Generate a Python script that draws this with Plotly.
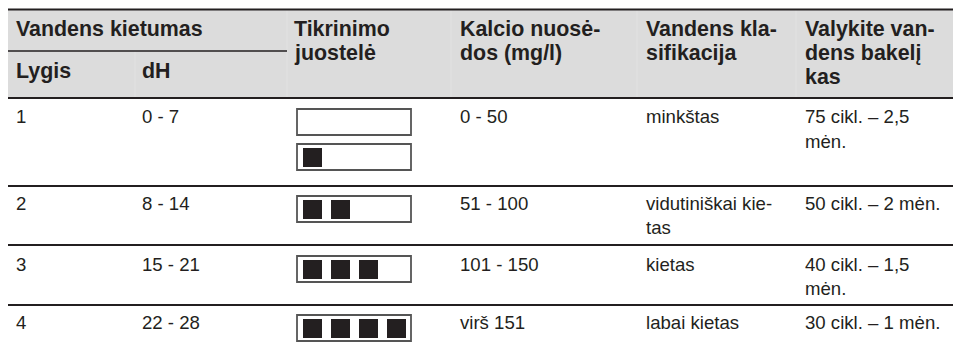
import plotly.graph_objects as go

# ---------------- data ----------------
header_group = "Vandens kietumas"
header_sub = ["Lygis", "dH"]
header_cols = ["Tikrinimo\njuostelė", "Kalcio nuosė-\ndos (mg/l)", "Vandens kla-\nsifikacija", "Valykite van-\ndens bakelį\nkas"]

levels = ["1", "2", "3", "4"]
dh_ranges = ["0 - 7", "8 - 14", "15 - 21", "22 - 28"]
calcium = ["0 - 50", "51 - 100", "101 - 150", "virš 151"]
classification = ["minkštas", "vidutiniškai kie-\ntas", "kietas", "labai kietas"]
cleaning = ["75 cikl. – 2,5\nmėn.", "50 cikl. – 2 mėn.", "40 cikl. – 1,5\nmėn.", "30 cikl. – 1 mėn."]
strip_squares = [[0, 1], [2], [3], [4]]   # filled squares per test strip, per row

# ---------------- layout constants ----------------
W, H = 955, 352
TABLE_L, TABLE_R = 8, 953
COL_L = [8, 135, 287, 451, 637, 796]
TEXT_X = [14, 140, 292, 458, 644, 803]
HEAD_TOP, SUB_LINE, HEAD_BOT = 9.5, 51, 98
ROW_LINES = [186, 245, 305]
ROW_TEXT_Y = [116.5, 203, 264, 322]
HEAD_Y = 29
SUB_Y = 71
LINE_GAP_HEAD = 24
LINE_GAP_BODY = 24.5
STRIP_TOPS = [[108, 143], [195], [255], [314]]

TXT = "#231f20"
RULE = "#231f20"
GREY = "#dcdcdc"
FONT = "Liberation Sans, Arial, sans-serif"
HEAD_SIZE = 21.4
BODY_SIZE = 18.6

fig = go.Figure()
shapes = []
annotations = []

# header background
shapes.append(dict(type="rect", x0=TABLE_L, x1=TABLE_R, y0=HEAD_TOP, y1=HEAD_BOT,
                   fillcolor=GREY, line=dict(width=0), layer="below"))
# faint column separators in header
for x in COL_L[2:]:
    shapes.append(dict(type="line", x0=x, x1=x, y0=HEAD_TOP, y1=HEAD_BOT,
                       line=dict(color="#e2e2e2", width=1)))
shapes.append(dict(type="line", x0=COL_L[1], x1=COL_L[1], y0=SUB_LINE, y1=HEAD_BOT,
                   line=dict(color="#e2e2e2", width=1)))

# horizontal rules
for y in [HEAD_TOP, HEAD_BOT] + ROW_LINES:
    shapes.append(dict(type="line", x0=TABLE_L, x1=TABLE_R, y0=y, y1=y,
                       line=dict(color=RULE, width=2)))
shapes.append(dict(type="line", x0=TABLE_L, x1=COL_L[2], y0=SUB_LINE, y1=SUB_LINE,
                   line=dict(color=RULE, width=1.6)))


def add_text(x, y, text, size, bold, gap):
    for i, line in enumerate(text.split("\n")):
        annotations.append(dict(
            x=x, y=y + i * gap, xref="x", yref="y", text=f"<b>{line}</b>" if bold else line,
            showarrow=False, xanchor="left", yanchor="middle",
            font=dict(family=FONT, size=size, color=TXT)))


# header texts
add_text(TEXT_X[0], HEAD_Y, header_group, HEAD_SIZE, True, LINE_GAP_HEAD)
add_text(TEXT_X[0], SUB_Y, header_sub[0], HEAD_SIZE, True, LINE_GAP_HEAD)
add_text(TEXT_X[1], SUB_Y, header_sub[1], HEAD_SIZE, True, LINE_GAP_HEAD)
for j, t in enumerate(header_cols):
    add_text(TEXT_X[2 + j], HEAD_Y, t, HEAD_SIZE, True, LINE_GAP_HEAD)

# body texts
for r in range(len(levels)):
    y = ROW_TEXT_Y[r]
    add_text(TEXT_X[0], y, levels[r], BODY_SIZE, False, LINE_GAP_BODY)
    add_text(TEXT_X[1], y, dh_ranges[r], BODY_SIZE, False, LINE_GAP_BODY)
    add_text(TEXT_X[3], y, calcium[r], BODY_SIZE, False, LINE_GAP_BODY)
    add_text(TEXT_X[4], y, classification[r], BODY_SIZE, False, LINE_GAP_BODY)
    add_text(TEXT_X[5], y, cleaning[r], BODY_SIZE, False, LINE_GAP_BODY)

# test strips
STRIP_X0, STRIP_X1, STRIP_H = 296, 412, 28
SQ_X0, SQ_SIZE, SQ_PITCH, SQ_INSET = 303, 19, 28, 5
for r, counts in enumerate(strip_squares):
    for k, n in enumerate(counts):
        top = STRIP_TOPS[r][k]
        shapes.append(dict(type="rect", x0=STRIP_X0 + 1, x1=STRIP_X1 - 1, y0=top + 1, y1=top + STRIP_H - 1,
                           fillcolor="white", line=dict(color="#555555", width=1.8)))
        for q in range(n):
            x0 = SQ_X0 + q * SQ_PITCH
            shapes.append(dict(type="rect", x0=x0, x1=x0 + SQ_SIZE, y0=top + SQ_INSET,
                               y1=top + SQ_INSET + SQ_SIZE, fillcolor="#231f20", line=dict(width=0)))

fig.update_layout(
    width=W, height=H, margin=dict(l=0, r=0, t=0, b=0),
    paper_bgcolor="white", plot_bgcolor="white",
    xaxis=dict(range=[0, W], visible=False, fixedrange=True),
    yaxis=dict(range=[H, 0], visible=False, fixedrange=True),
    shapes=shapes, annotations=annotations, showlegend=False,
)

fig.write_html("out.html", config={"displayModeBar": False},
               post_script="document.body.style.margin='0';document.body.style.overflow='hidden';")
